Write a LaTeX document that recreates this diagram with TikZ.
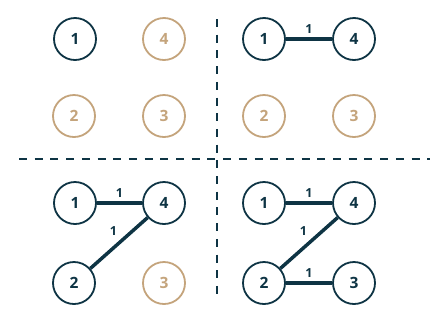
\documentclass[tikz,border=0pt]{standalone}
\usepackage{fontspec}
\setmainfont{Open Sans}
\definecolor{navy}{HTML}{0E3444}
\definecolor{tan}{HTML}{C4A47C}
\tikzset{
  vtx/.style={circle, draw=navy, line width=1.8pt, minimum size=42pt, inner sep=0pt, text=navy, font=\fontsize{15.5}{15.5}\selectfont\bfseries},
  vtxoff/.style={vtx, draw=tan, text=tan},
  edge/.style={draw=navy, line width=3.5pt},
  wlabel/.style={text=navy, font=\fontsize{12.5}{12.5}\selectfont\bfseries, inner sep=1pt},
  sep/.style={draw=navy, line width=1.8pt, dash pattern=on 8pt off 7.7pt}
}
\begin{document}
\begin{tikzpicture}[x=1pt,y=-1pt]
\useasboundingbox (0,0) rectangle (443,322);
% separators
\coordinate (hl) at (19,159);
\coordinate (hr) at (430,159);
\coordinate (vt) at (217,19);
\coordinate (vb) at (217,294);
\draw[sep] (hl) -- (hr);
\draw[sep] (vt) -- (vb);
% panel A
\node[vtx] (a1) at (75,39) {1};
\node[vtxoff] (a4) at (164,39) {4};
\node[vtxoff] (a2) at (74,116) {2};
\node[vtxoff] (a3) at (164,116) {3};
% panel B
\node[vtx] (b1) at (264,39) {1};
\node[vtx] (b4) at (354,39) {4};
\node[vtxoff] (b2) at (264,116) {2};
\node[vtxoff] (b3) at (354,116) {3};
\draw[edge] (b1) -- node[wlabel, above=3pt] {1} (b4);
% panel C
\node[vtx] (c1) at (75,203) {1};
\node[vtx] (c4) at (164,203) {4};
\node[vtx] (c2) at (74,283) {2};
\node[vtxoff] (c3) at (164,283) {3};
\draw[edge] (c1) -- node[wlabel, above=3pt] {1} (c4);
\draw[edge] (c2) -- node[wlabel, above left=2pt, pos=0.55] {1} (c4);
% panel D
\node[vtx] (d1) at (264,203) {1};
\node[vtx] (d4) at (354,203) {4};
\node[vtx] (d2) at (264,283) {2};
\node[vtx] (d3) at (354,283) {3};
\draw[edge] (d1) -- node[wlabel, above=3pt] {1} (d4);
\draw[edge] (d2) -- node[wlabel, above left=2pt, pos=0.55] {1} (d4);
\draw[edge] (d2) -- node[wlabel, above=3pt] {1} (d3);
\end{tikzpicture}
\end{document}
